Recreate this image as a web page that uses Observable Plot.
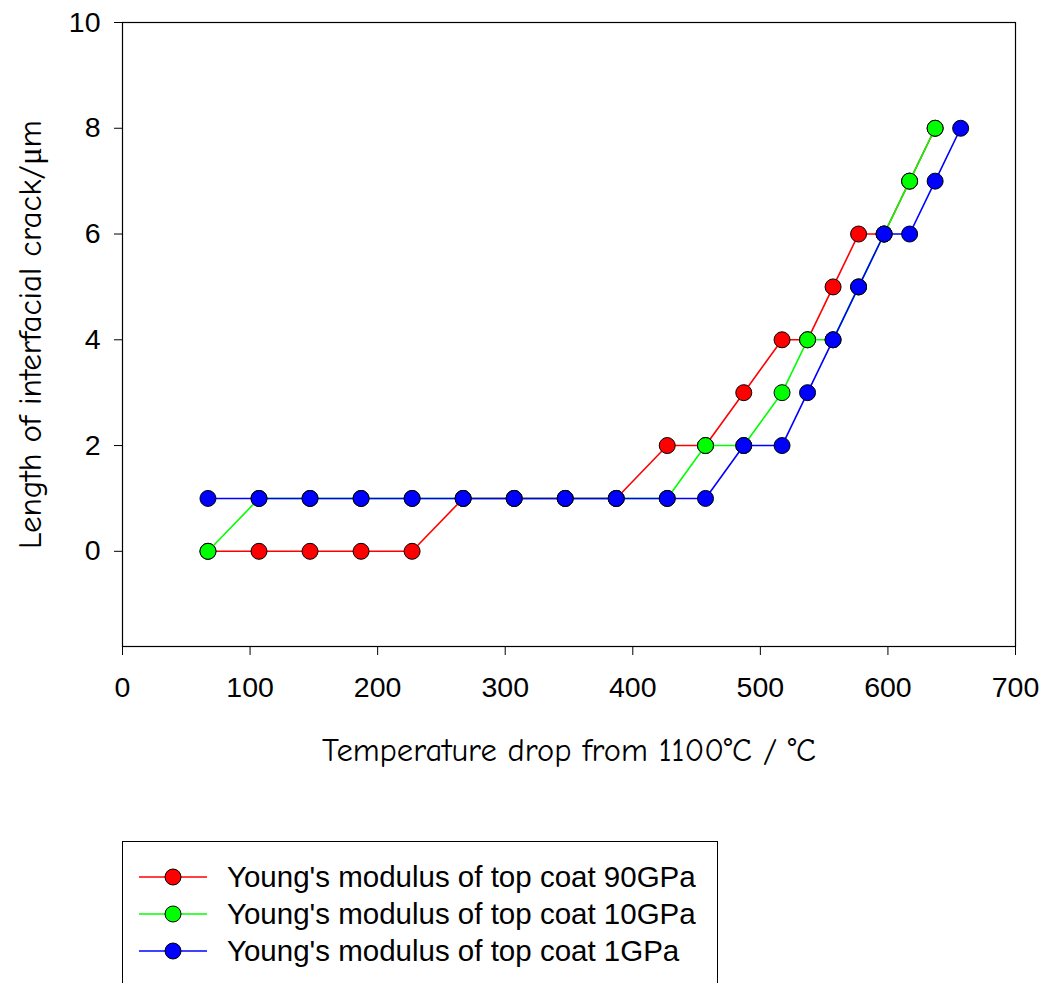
<!DOCTYPE html>
<html>
<head>
<meta charset="utf-8">
<script src="https://cdn.jsdelivr.net/npm/d3@7"></script>
<script src="https://cdn.jsdelivr.net/npm/@observablehq/plot@0.6"></script>
<style>
  html, body { margin: 0; padding: 0; background: #fff; overflow: hidden; }
  #wrap { position: relative; width: 1045px; height: 983px; }
  #legend {
    position: absolute; left: 122px; top: 841px; width: 596px; height: 200px;
    border: 1px solid #000; border-bottom: none; box-sizing: border-box;
    font-family: "Liberation Sans", Arial, sans-serif; font-size: 29.5px; color: #000;
  }
  .item { position: absolute; left: 0; height: 36px; display: flex; align-items: center; white-space: nowrap; }
  .item svg { margin-left: 16px; margin-right: 18px; }
</style>
</head>
<body>
<div id="wrap">
  <div id="chart"></div>
  <div id="legend"></div>
</div>
<script>
// Temperature drop from 1100°C (°C)
const temps = [67, 107, 147, 187, 227, 267, 307, 347, 387, 427, 457, 487, 517, 537, 557, 577, 597, 617, 637, 657];
// Length of interfacial crack (µm)
const crack90GPa = [0, 0, 0, 0, 0, 1, 1, 1, 1, 2, 2, 3, 4, 4, 5, 6, 6, 7, 8];
const crack10GPa = [0, 1, 1, 1, 1, 1, 1, 1, 1, 1, 2, 2, 3, 4, 4, 5, 6, 7, 8];
const crack1GPa  = [1, 1, 1, 1, 1, 1, 1, 1, 1, 1, 1, 2, 2, 3, 4, 5, 6, 6, 7, 8];
const seriesNames = [
  "Young's modulus of top coat 90GPa",
  "Young's modulus of top coat 10GPa",
  "Young's modulus of top coat 1GPa"
];
const seriesColors = ["#ff0000", "#00ff00", "#0000ff"];
const xTicks = [0, 100, 200, 300, 400, 500, 600, 700];
const yTicks = [0, 2, 4, 6, 8, 10];
const xTitle = "Temperature drop from 1100°C / °C";
const yTitle = "Length of interfacial crack/μm";

const seriesValues = [crack90GPa, crack10GPa, crack1GPa];
const seriesData = seriesValues.map((vals, i) =>
  vals.map((v, j) => ({ t: temps[j], len: v, series: seriesNames[i] }))
);

const titleFont = '"Comic Sans MS", "Comic Neue", cursive';

const marks = [Plot.frame({ stroke: "#000", strokeWidth: 1.2 })];
seriesData.forEach((d, i) => {
  marks.push(Plot.line(d, { x: "t", y: "len", stroke: seriesColors[i], strokeWidth: 1.6 }));
  marks.push(Plot.dot(d, { x: "t", y: "len", r: 8, fill: seriesColors[i], stroke: "#000", strokeWidth: 1 }));
});
marks.push(
  Plot.axisX(xTicks, { tickSize: 9, tickPadding: 21, fontSize: 28.5, label: null, stroke: "#000", tickFormat: d => String(d) }),
  Plot.axisY(yTicks, { tickSize: 8, tickPadding: 14, fontSize: 28.5, label: null, stroke: "#000", tickFormat: d => String(d) }),
  Plot.text([xTitle], { frameAnchor: "bottom", dy: 104, lineAnchor: "middle", textAnchor: "middle", fontSize: 32.5, fontFamily: titleFont }),
  Plot.text([yTitle], { frameAnchor: "left", dx: -92, rotate: -90, lineAnchor: "middle", textAnchor: "middle", fontSize: 33, fontFamily: titleFont })
);

const chart = Plot.plot({
  width: 1045,
  height: 800,
  marginTop: 22,
  marginLeft: 122,
  marginRight: 30,
  marginBottom: 154,
  style: { fontFamily: '"Liberation Sans", Arial, sans-serif', color: "#000", background: "#fff", overflow: "visible" },
  x: { domain: [0, 700] },
  y: { domain: [-1.8, 10] },
  marks
});
document.getElementById("chart").appendChild(chart);

// Legend
const legend = document.getElementById("legend");
seriesNames.forEach((name, i) => {
  const row = document.createElement("div");
  row.className = "item";
  row.style.top = (17 + i * 37) + "px";
  row.innerHTML = `<svg width="70" height="20"><line x1="0" y1="10" x2="68" y2="10" stroke="${seriesColors[i]}" stroke-width="1.6"/><circle cx="34" cy="10" r="8" fill="${seriesColors[i]}" stroke="#000" stroke-width="1"/></svg><span>${name}</span>`;
  legend.appendChild(row);
});
</script>
</body>
</html>
